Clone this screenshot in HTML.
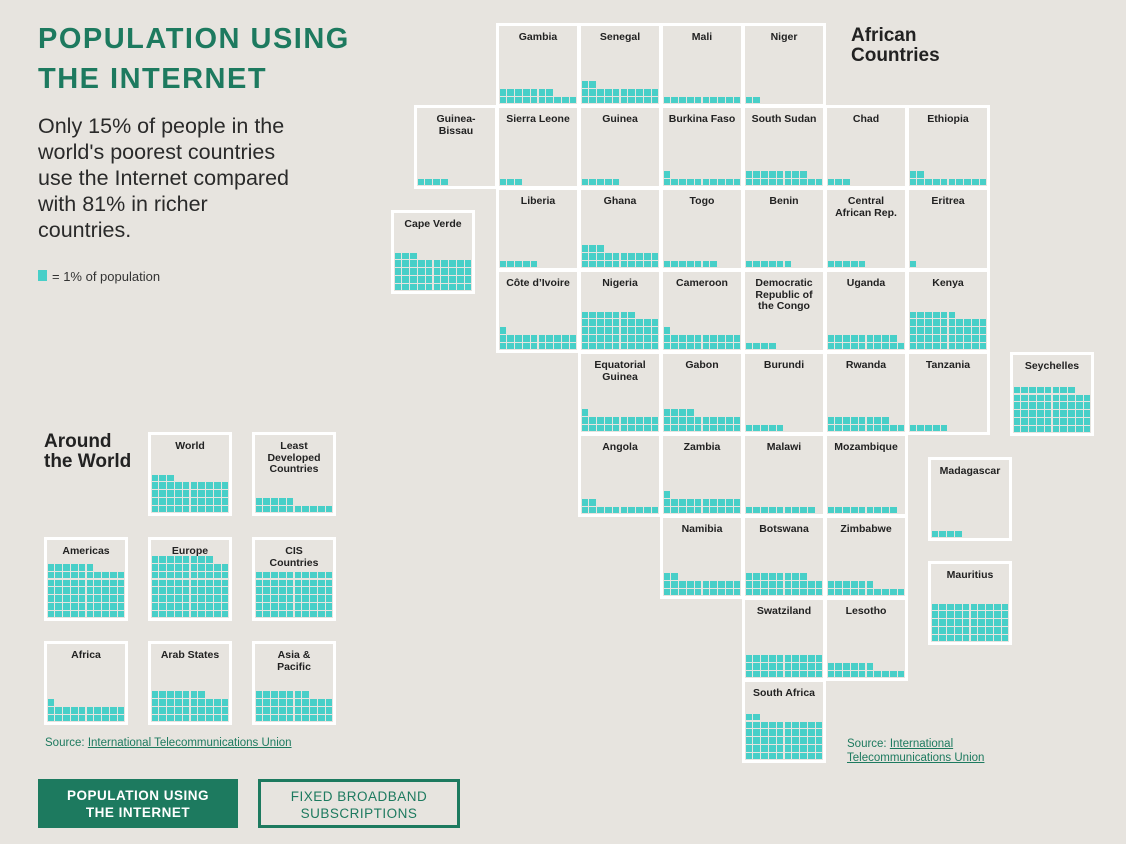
<!DOCTYPE html>
<html><head><meta charset="utf-8"><style>
body{margin:0;width:1126px;height:844px;background:#e7e4df;font-family:"Liberation Sans",sans-serif;position:relative;overflow:hidden;color:#222}
.t{position:absolute;box-sizing:border-box;width:84px;height:84px;border:3px solid #fff;background:#e7e4df}
.t .l{position:absolute;left:0;right:0;top:6px;text-align:center;font-size:10.5px;font-weight:bold;line-height:11.5px;color:#222}
.c{position:absolute;width:6.6px;height:6.6px;background:#48cfc8}
.a{position:absolute}
</style></head><body>
<div class="a" style="left:38px;top:19px;font-size:29px;font-weight:bold;color:#1d7a5f;letter-spacing:1.5px;line-height:40px">POPULATION USING<br>THE INTERNET</div>
<div class="a" style="left:38px;top:113px;font-size:21.5px;line-height:26px;color:#2a2a2a">Only 15% of people in the<br>world's poorest countries<br>use the Internet compared<br>with 81% in richer<br>countries.</div>
<div class="a" style="left:38px;top:270px;width:9px;height:11px;background:#48cfc8"></div>
<div class="a" style="left:52px;top:269px;font-size:13px;color:#333">= 1% of population</div>
<div class="a" style="left:851px;top:26px;font-size:19px;font-weight:bold;line-height:20px">African<br>Countries</div>
<div class="a" style="left:44px;top:432px;font-size:19px;font-weight:bold;line-height:20px">Around<br>the World</div>
<div class="a" style="left:45px;top:737px;font-size:11.5px;color:#1d7a5f">Source: <u>International Telecommunications Union</u></div>
<div class="a" style="left:847px;top:737px;font-size:11.5px;color:#1d7a5f;line-height:14px">Source: <u>International</u><br><u>Telecommunications Union</u></div>
<div class="a" style="left:38px;top:779px;width:200px;height:49px;background:#1d7a5f;color:#fff;font-weight:bold;font-size:13.5px;text-align:center;line-height:17px;box-sizing:border-box;padding-top:8px;letter-spacing:0.5px">POPULATION USING<br>THE INTERNET</div>
<div class="a" style="left:258px;top:779px;width:202px;height:49px;border:3px solid #1d7a5f;color:#1d7a5f;font-size:13.5px;text-align:center;line-height:17px;box-sizing:border-box;padding-top:6px;letter-spacing:0.5px">FIXED BROADBAND<br>SUBSCRIPTIONS</div>
<div id="m"></div>
<script>
var D=[
["Gambia",0,0,17],["Senegal",1,0,22],["Mali",2,0,10],["Niger",3,0,2],
["Guinea-<br>Bissau",-1,1,4],["Sierra Leone",0,1,3],["Guinea",1,1,5],["Burkina Faso",2,1,11],["South Sudan",3,1,18],["Chad",4,1,3],["Ethiopia",5,1,12],
["Liberia",0,2,5],["Ghana",1,2,23],["Togo",2,2,7],["Benin",3,2,6],["Central<br>African Rep.",4,2,5],["Eritrea",5,2,1],
["Côte d’Ivoire",0,3,21],["Nigeria",1,3,47],["Cameroon",2,3,21],["Democratic<br>Republic of<br>the Congo",3,3,4],["Uganda",4,3,19],["Kenya",5,3,46],
["Equatorial<br>Guinea",1,4,21],["Gabon",2,4,24],["Burundi",3,4,5],["Rwanda",4,4,18],["Tanzania",5,4,5],
["Angola",1,5,12],["Zambia",2,5,21],["Malawi",3,5,9],["Mozambique",4,5,9],
["Namibia",2,6,22],["Botswana",3,6,28],["Zimbabwe",4,6,16],
["Swatziland",3,7,30],["Lesotho",4,7,16],["South Africa",3,8,52]];
var h="";
function tile(name,x,y,v){
  var s='<div class="t" style="left:'+x+'px;top:'+y+'px"><div class="l">'+name+'</div>';
  for(var i=0;i<v;i++){var r=Math.floor(i/10),c=i%10;
    s+='<div class="c" style="left:'+(0.6+c*7.8).toFixed(1)+'px;top:'+(78-7.8*(r+1)+0.6).toFixed(1)+'px"></div>';}
  return s+'</div>';}
D.forEach(function(d){h+=tile(d[0],496+d[1]*82,23+d[2]*82,d[3]);});
h+=tile("Cape Verde",391,210,43);
h+=tile("Seychelles",1010,352,58);
h+=tile("Madagascar",928,457,4);
h+=tile("Mauritius",928,561,50);
var W=[["World",148,432,43],["Least<br>Developed<br>Countries",252,432,15],["Americas",44,537,66],["Europe",148,537,78],["CIS<br>Countries",252,537,60],["Africa",44,641,21],["Arab States",148,641,37],["Asia &amp;<br>Pacific",252,641,37]];
W.forEach(function(d){h+=tile(d[0],d[1],d[2],d[3]);});
document.getElementById("m").innerHTML=h;
</script>
</body></html>
